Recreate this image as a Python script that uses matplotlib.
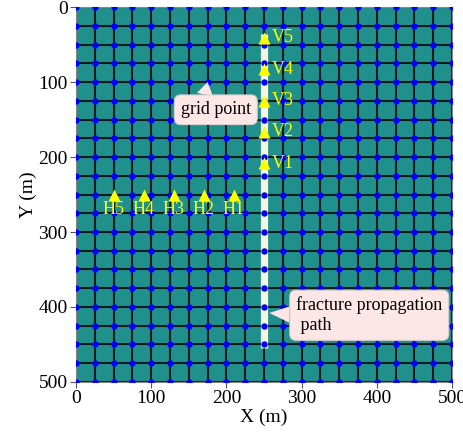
import numpy as np
import matplotlib.pyplot as plt

plt.rcParams['font.family'] = ['Liberation Serif', 'DejaVu Serif']

# grid spacing (m) and domain size
grid_step = 25
domain = 500

# horizontal monitoring points (y = 250)
h_names = ["H1", "H2", "H3", "H4", "H5"]
h_x = [210, 170, 130, 90, 50]
h_y = [250, 250, 250, 250, 250]

# vertical monitoring points (x = 250)
v_names = ["V1", "V2", "V3", "V4", "V5"]
v_x = [250, 250, 250, 250, 250]
v_y = [208, 166, 125, 83, 41]

# fracture propagation path
path_x = [250, 250]
path_y = [36, 455]

fig = plt.figure(figsize=(4.64, 4.41), dpi=100)
ax = fig.add_axes([0.1638, 0.1338, 0.8103, 0.8503])

# teal background
ax.imshow(np.full((2, 2), 0.5), cmap="viridis", vmin=0, vmax=1,
          extent=[0, domain, domain, 0], aspect="auto", zorder=0)

ticks = np.arange(0, domain + 1, grid_step)
for t in ticks:
    ax.axvline(t, color="#0d1a1a", lw=1.5, zorder=1)
    ax.axhline(t, color="#0d1a1a", lw=1.5, zorder=1)

ax.plot(path_x, path_y, color="#f6f6e2", lw=5.2, solid_capstyle="butt", zorder=2)

gx, gy = np.meshgrid(ticks, ticks)
ax.plot(gx.ravel(), gy.ravel(), "o", color="blue", ms=4.6, mec="none", zorder=3)

ax.plot(h_x, h_y, "^", color="yellow", ms=8, mec="none", zorder=4)
for name, x, y in zip(h_names, h_x, h_y):
    ax.text(x, y + 9, name, color="yellow", fontsize=13, ha="center", va="top", zorder=5)

ax.plot(v_x, v_y, "^", color="yellow", ms=8, mec="none", zorder=4)
for name, x, y in zip(v_names, v_x, v_y):
    ax.text(x + 10, y, name, color="yellow", fontsize=13, ha="left", va="center", zorder=5)

box = dict(boxstyle="round,pad=0.35", fc="#fde6e6", ec="#d8d0d0", lw=0.8)
arrow = dict(arrowstyle="wedge,tail_width=0.9,shrink_factor=0.5", fc="#fde6e6",
             ec="none", relpos=(0.3, 0.5), shrinkA=0, shrinkB=0)
ax.annotate("grid point", xy=(175, 100), xytext=(186, 137), fontsize=13,
            ha="center", va="center", bbox=box, arrowprops=arrow, zorder=6)
ax.annotate("fracture propagation\n path", xy=(257, 408), xytext=(390, 411),
            fontsize=13, ha="center", va="center", multialignment="left",
            bbox=box, arrowprops=dict(arrow, relpos=(0.05, 0.5)), zorder=6)

ax.set_xlim(0, domain)
ax.set_ylim(domain, 0)
ax.set_xticks(np.arange(0, domain + 1, 100))
ax.set_yticks(np.arange(0, domain + 1, 100))
ax.tick_params(labelsize=14, direction="out", length=4, color="#555555", pad=2)
for s in ax.spines.values():
    s.set_color("#888888")
ax.set_xlabel("X (m)", fontsize=14, labelpad=1)
ax.set_ylabel("Y (m)", fontsize=14, labelpad=1)

fig.savefig("out.png", dpi=100)
